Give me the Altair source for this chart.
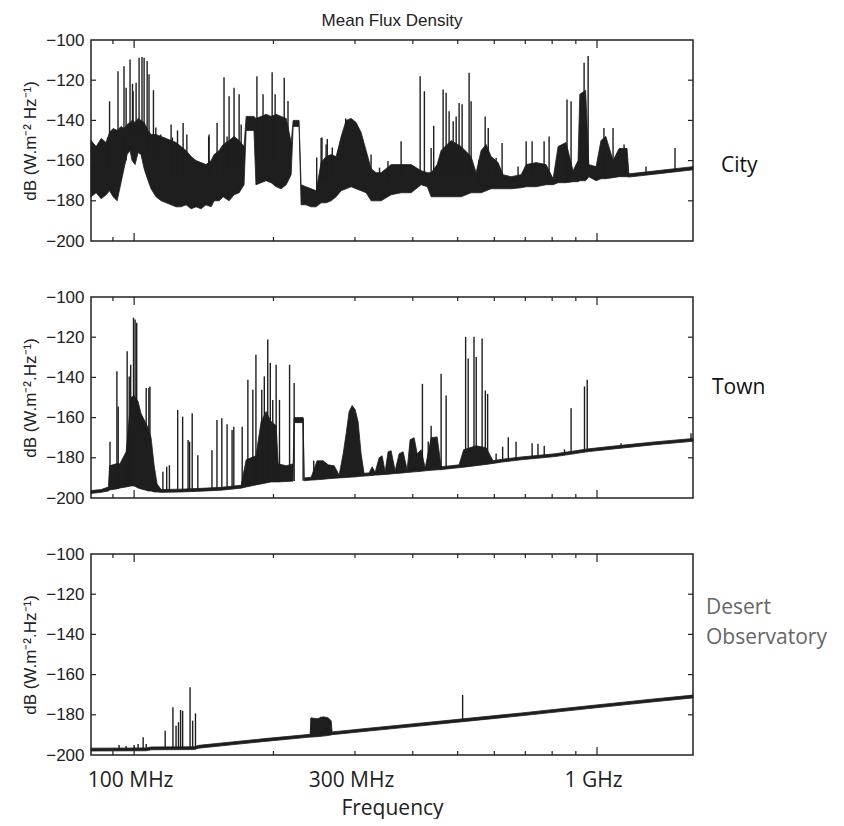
import altair as alt
import pandas as pd

# ---------------- data ----------------
# City: dense band (upper / lower envelope) + spikes
city_band_freq = [80.7, 82.8, 84.9, 87.0, 88.5, 90.1, 91.9, 93.7, 95.1, 96.6, 98.0, 99.0, 100.5, 102.0, 103.5,
                  105.1, 107.2, 108.8, 111.5, 114.4, 117.3, 120.2, 123.2, 126.3, 129.5, 132.8, 136.1, 139.5, 143.0,
                  146.7, 148.9, 152.7, 155.7, 160.4, 164.4, 168.6, 172.8, 174.6, 181.5, 183.3, 188.1, 192.8, 197.7,
                  202.7, 207.8, 213.1, 218.4, 220.6, 227.2, 229.5, 235.0, 241.2, 247.3, 253.5, 259.9, 266.5, 273.2,
                  280.1, 287.1, 294.3, 301.7, 309.3, 317.1, 325.1, 333.3, 341.7, 359.1, 377.4, 396.7, 416.9, 430.0,
                  438.2, 451.5, 460.5, 484.0, 508.7, 534.6, 548.0, 561.9, 576.1, 590.5, 611.4, 626.7, 652.3, 685.5,
                  703.0, 738.8, 776.2, 803.8, 824.0, 857.1, 887.8, 910.0, 918.0, 945.0, 960.0, 995.4, 1020.0, 1045.0,
                  1083.0, 1116.0, 1161.0, 1172.0, 1375.0, 1612.0]
city_band_top = [-150, -153, -149, -151, -146, -144, -145, -143, -144, -142, -141, -140, -141, -139, -140,
                 -141, -145, -147, -147, -148, -149, -150, -151, -153, -155, -158, -160, -161, -162,
                 -160, -157, -155, -152, -150, -148, -150, -153, -138, -138, -139, -138, -137, -138,
                 -137, -138, -139, -151, -140, -140, -172, -173, -174, -175, -161, -158, -157, -158,
                 -148, -140, -139, -141, -146, -155, -164, -166, -166, -162, -162, -162, -165, -166,
                 -166, -162, -155, -150, -153, -158, -166, -155, -152, -158, -161, -167, -168, -167,
                 -162, -161, -162, -169, -153, -151, -165, -160, -127, -125, -162, -163, -150, -148,
                 -160, -154, -154, -166.6, -164.8, -163.0]
city_band_bottom = [-178, -176, -179, -177, -175, -178, -180, -171, -164, -157, -155, -160, -162, -156, -157,
                    -164, -170, -174, -178, -180, -181, -182, -183, -183, -182, -184, -183, -184, -182,
                    -183, -180, -180, -178, -180, -177, -176, -172, -145, -145, -172, -171, -170, -171,
                    -173, -174, -172, -167, -143, -143, -182, -182, -183, -183, -181, -181, -180, -178,
                    -175, -174, -173, -174, -175, -176, -180, -180, -180, -177, -176, -176, -172, -173,
                    -178, -178, -178, -178, -178, -176, -176, -176, -175, -174, -174, -174, -174, -173.5,
                    -173, -173, -172, -172, -171, -171, -170.5, -170.5, -170, -170, -168, -170, -169, -169,
                    -168.5, -168, -168, -168.2, -166.4, -164.6]
city_spike_freq = [84.9, 87.6, 88.5, 91.4, 92.3, 95.1, 96.1, 98.0, 99.2, 99.5, 101.0, 102.5, 104.0, 105.1, 106.7,
                   107.7, 110.1, 111.4, 114.2, 120.2, 121.0, 124.1, 127.6, 130.0, 144.9, 145.2, 151.1, 156.4,
                   158.8, 160.4, 164.4, 168.6, 170.3, 184.2, 189.9, 198.7, 201.7, 211.0, 215.0, 248.0, 253.5,
                   254.6, 259.9, 261.4, 268.0, 278.0, 286.4, 325.0, 339.0, 353.5, 377.4, 414.9, 423.7, 438.2,
                   443.8, 465.1, 472.1, 479.2, 489.0, 496.3, 503.6, 511.2, 529.3, 534.6, 556.3, 573.3, 582.1,
                   605.4, 623.7, 675.3, 703.0, 724.1, 768.6, 788.0, 861.4, 879.0, 937.8, 956.8, 1015.0, 1035.0,
                   1083.0, 1144.0, 1276.0, 1474.0]
city_spike_top = [-153.7, -148.5, -130.5, -144.6, -115.5, -113.0, -123.8, -109.7, -121.8, -125.5, -121.3, -108.8,
                  -108.5, -108.8, -110.5, -117.0, -125.0, -143.5, -147.0, -142.0, -148.5, -145.0, -141.3, -147.0,
                  -148.0, -147.0, -141.3, -118.5, -148.0, -128.0, -123.8, -127.0, -142.0, -118.0, -127.0, -116.0,
                  -127.0, -118.8, -130.3, -158.5, -148.8, -148.5, -152.0, -149.3, -153.5, -152.7, -139.0, -157.0,
                  -163.5, -160.2, -150.4, -118.0, -125.5, -153.7, -142.7, -124.6, -126.3, -135.4, -140.4, -138.0,
                  -131.3, -132.0, -116.3, -130.5, -159.6, -138.0, -143.8, -158.7, -151.2, -162.9, -150.4, -150.4,
                  -150.4, -148.0, -129.6, -130.5, -111.3, -108.0, -158.7, -143.8, -143.8, -152.0, -162.9, -153.7]
city_spike_base = [-165, -165, -165, -165, -165, -160, -160, -150, -150, -150, -150, -150, -150, -150, -155,
                   -155, -160, -165, -165, -170, -170, -170, -170, -170, -170, -170, -170, -170,
                   -170, -165, -165, -165, -165, -160, -160, -160, -160, -160, -160, -175, -170,
                   -170, -170, -170, -170, -165, -165, -172, -175, -172, -170, -170, -170, -172,
                   -172, -170, -170, -170, -170, -170, -170, -170, -170, -170, -172, -170, -170,
                   -170, -170, -172, -170, -170, -170, -170, -168, -168, -165, -165, -168, -168,
                   -167, -167, -166, -165]

# Town
town_band_freq = [80.7, 84.9, 88.0, 88.5, 91.4, 93.2, 96.1, 98.5, 100.0, 102.0, 103.5, 105.6, 107.2, 108.8, 110.5,
                  112.1, 114.4, 126.3, 139.5, 154.2, 170.3, 174.6, 183.3, 188.1, 192.8, 197.7, 202.7, 204.8,
                  213.1, 220.6, 221.7, 231.8, 233.0, 241.2, 248.5, 256.0, 262.6, 270.6, 277.3, 282.9, 287.1,
                  291.4, 295.8, 300.2, 304.7, 309.3, 313.9, 321.9, 326.7, 331.7, 338.3, 343.4, 348.5, 353.7,
                  359.1, 366.3, 373.7, 381.2, 388.9, 394.7, 402.7, 408.8, 416.9, 425.4, 438.2, 451.5, 460.5,
                  467.2, 503.6, 515.0, 548.0, 576.0, 596.0, 625.0, 685.5, 811.9, 960.0, 1127.0, 1328.0, 1612.0]
town_band_top = [-196.3, -195.8, -194.5, -184.0, -183.0, -183.0, -177.0, -150.0, -149.0, -152.0, -158.0, -162.0,
                 -165.0, -170.0, -184.0, -193.0, -195.8, -195.6, -195.2, -194.7, -193.7, -181.0, -179.0, -162.0,
                 -157.0, -162.0, -164.0, -183.0, -184.0, -183.0, -160.0, -160.0, -190.0, -189.7, -181.5, -181.5,
                 -183.5, -184.0, -188.6, -178.0, -168.0, -157.0, -154.0, -156.0, -162.0, -178.0, -187.7, -187.5,
                 -184.5, -187.2, -180.0, -179.0, -186.9, -177.0, -176.5, -186.4, -178.0, -177.0, -185.9, -171.0,
                 -170.0, -178.0, -176.0, -185.1, -170.0, -169.6, -184.5, -184.3, -183.5, -176.0, -174.0, -175.0,
                 -181.4, -180.7, -179.6, -178.0, -175.5, -173.8, -172.1, -170.4]
town_band_bottom = [-197.7, -197.2, -196.5, -196.0, -195.5, -195.0, -194.5, -194.0, -194.0, -195.0, -195.5, -196.0,
                    -196.5, -196.5, -197.0, -197.0, -197.2, -197.0, -196.6, -196.1, -195.1, -194.5, -193.5, -193.0,
                    -192.5, -192.0, -192.0, -192.0, -191.8, -191.6, -162.5, -162.5, -191.4, -191.1, -190.9, -190.7,
                    -190.4, -190.2, -190.0, -189.9, -189.8, -189.7, -189.6, -189.5, -189.3, -189.2, -189.1, -188.9,
                    -188.8, -188.6, -188.5, -188.4, -188.3, -188.2, -188.0, -187.8, -187.7, -187.5, -187.3, -187.2,
                    -187.0, -186.9, -186.7, -186.5, -186.2, -186.0, -185.9, -185.7, -184.9, -184.7, -183.9, -183.3,
                    -182.8, -182.1, -181.0, -179.4, -176.9, -175.2, -173.5, -171.8]
town_spike_freq = [88.7, 91.8, 92.4, 96.6, 97.6, 98.3, 99.7, 100.5, 101.3, 103.2, 106.2, 107.6, 108.2, 115.4,
                   117.6, 119.2, 124.2, 127.3, 130.8, 131.8, 133.5, 137.3, 147.3, 151.0, 154.7, 158.8, 162.8,
                   164.2, 171.2, 176.1, 180.5, 183.3, 188.7, 191.1, 194.4, 196.9, 199.3, 202.7, 206.1, 216.7,
                   221.7, 231.8, 244.4, 419.6, 431.9, 438.2, 460.5, 472.1, 520.2, 526.9, 542.3, 548.4, 564.7,
                   573.8, 580.4, 605.4, 625.4, 643.2, 668.6, 724.1, 745.5, 769.1, 850.7, 879.0, 939.6, 952.5,
                   1127.0, 1596.0]
town_spike_top = [-172.0, -137.0, -154.5, -127.0, -139.5, -133.7, -110.3, -111.2, -112.8, -158.0, -145.3, -145.3,
                  -144.5, -187.0, -184.5, -183.7, -156.2, -159.5, -171.2, -172.0, -157.8, -178.7, -176.2, -161.2,
                  -160.3, -163.3, -166.2, -164.5, -164.5, -141.2, -146.2, -128.7, -146.2, -139.5, -121.2, -132.8,
                  -151.2, -133.7, -151.2, -133.7, -142.8, -160.3, -181.5, -143.2, -171.9, -164.0, -138.2, -149.0,
                  -119.8, -130.6, -119.8, -129.8, -120.6, -146.5, -148.2, -177.8, -174.5, -169.8, -172.0, -172.8,
                  -173.0, -174.0, -175.8, -155.3, -144.5, -141.2, -172.8, -167.8]
town_spike_base = [-195.5, -195.5, -195.5, -194.0, -194.0, -194.0, -170.0, -170.0, -170.0, -190.0, -196.0, -196.0,
                   -196.0, -197.0, -197.0, -197.0, -196.5, -196.5, -196.5, -196.5, -196.5, -196.5, -196.0, -196.0,
                   -196.0, -195.5, -195.5, -195.5, -195.0, -193.0, -193.0, -193.0, -192.5, -192.5, -192.0, -192.0,
                   -192.0, -192.0, -192.0, -191.7, -191.6, -191.4, -191.1, -186.5, -186.2, -186.1, -185.7, -185.5,
                   -184.5, -184.4, -184.0, -183.9, -183.5, -183.2, -183.0, -182.4, -182.0, -181.6, -181.0, -180.0,
                   -179.7, -179.3, -178.0, -177.5, -176.5, -176.4, -175.0, -171.5]

# Desert observatory
desert_band_freq = [80.7, 106.2, 108.8, 135.0, 137.9, 164.4, 194.4, 240.0, 241.2, 248.5, 256.0, 262.6, 266.5,
                    267.8, 320.3, 416.9, 513.4, 685.5, 960.0, 1328.0, 1612.0]
desert_band_top = [-196.6, -196.5, -196.0, -195.9, -195.2, -193.4, -191.7, -189.7, -181.5, -182.0, -181.0, -181.5,
                   -183.0, -188.5, -186.7, -184.1, -182.0, -179.1, -175.5, -172.1, -170.2]
desert_band_bottom = [-198.0, -197.9, -197.4, -197.3, -196.6, -194.8, -193.1, -191.1, -191.1, -190.9, -190.6,
                      -190.3, -190.0, -189.9, -188.1, -185.5, -183.4, -180.5, -176.9, -173.5, -171.6]
desert_spike_freq = [92.8, 96.1, 100.0, 102.0, 104.6, 106.2, 116.7, 121.3, 123.2, 124.7, 126.0, 127.3, 132.1,
                     133.8, 135.7, 241.2, 252.9, 512.5]
desert_spike_top = [-195.0, -195.5, -195.0, -194.5, -191.2, -194.5, -187.9, -176.3, -185.4, -183.7, -177.6, -178.0,
                    -166.3, -182.9, -179.3, -181.6, -181.0, -170.1]
desert_spike_base = [-197.5, -197.5, -197.5, -197.5, -197.5, -197.5, -197.0, -197.0, -197.0, -197.0, -197.0,
                     -197.0, -196.8, -196.5, -196.5, -190.5, -190.5, -182.7]

# Axes
freq_domain = [80.7, 1612.0]
db_domain = [-200, -100]
db_ticks = [-200, -180, -160, -140, -120, -100]
db_inner_ticks = [-180, -160, -140, -120]
freq_major_ticks = [100, 1000]
freq_minor_ticks = [90, 200, 300, 400, 500, 600, 700, 800, 900]
freq_label_values = [100, 300, 1000]

W, H = 602, 201
INK = "#1e1e1e"


def panel(band_f, band_t, band_b, sp_f, sp_t, sp_b, label, label_color, label_dx, label_dy,
          ytitle, bottom, title=None):
    xscale = alt.Scale(type="log", domain=freq_domain, nice=False)
    yscale = alt.Scale(domain=db_domain, nice=False, zero=False)
    if bottom:
        xaxis = alt.Axis(values=freq_label_values, ticks=False, domain=False, grid=False,
                         labelExpr="datum.value >= 1000 ? '1 GHz' : datum.value + ' MHz'",
                         labelFont="Open Sans", labelFontSize=21, labelColor="#222",
                         labelPadding=14, labelOffset=-4, title="Frequency", titleFont="Open Sans",
                         titleFontSize=21, titleFontWeight="normal", titleColor="#222",
                         titlePadding=7, labelFlush=False)
    else:
        xaxis = None
    yaxis = alt.Axis(values=db_ticks, ticks=False, domain=False, grid=False,
                     labelFont="Liberation Sans", labelFontSize=17, labelColor="#222",
                     labelPadding=7, title=ytitle, titleFont="Liberation Sans",
                     titleFontSize=17, titleFontWeight="normal", titleColor="#222",
                     titlePadding=6)

    band = pd.DataFrame({"freq": band_f, "top": band_t, "bottom": band_b})
    spikes = pd.DataFrame({"freq": sp_f, "top": sp_t, "base": sp_b})

    area = alt.Chart(band).mark_area(color=INK, stroke=INK, strokeWidth=0.8).encode(
        x=alt.X("freq:Q", scale=xscale, axis=xaxis),
        y=alt.Y("top:Q", scale=yscale, axis=yaxis),
        y2="bottom:Q",
    )
    rules = alt.Chart(spikes).mark_rule(color=INK, strokeWidth=1.4).encode(
        x=alt.X("freq:Q", scale=xscale, axis=xaxis),
        y=alt.Y("top:Q", scale=yscale, axis=yaxis),
        y2="base:Q",
    )

    maj = pd.DataFrame({"freq": freq_major_ticks})
    mnr = pd.DataFrame({"freq": freq_minor_ticks})
    yt = pd.DataFrame({"db": db_inner_ticks})
    tick_layers = []
    for df, ln in ((maj, 8), (mnr, 4)):
        tick_layers.append(alt.Chart(df).mark_rule(color="#222", strokeWidth=1.2).encode(
            x=alt.X("freq:Q", scale=xscale, axis=xaxis), y=alt.value(H), y2=alt.value(H - ln)))
        tick_layers.append(alt.Chart(df).mark_rule(color="#222", strokeWidth=1.2).encode(
            x=alt.X("freq:Q", scale=xscale, axis=xaxis), y=alt.value(0), y2=alt.value(ln)))
    tick_layers.append(alt.Chart(yt).mark_rule(color="#222", strokeWidth=1.2).encode(
        y=alt.Y("db:Q", scale=yscale, axis=yaxis), x=alt.value(0), x2=alt.value(5)))
    tick_layers.append(alt.Chart(yt).mark_rule(color="#222", strokeWidth=1.2).encode(
        y=alt.Y("db:Q", scale=yscale, axis=yaxis), x=alt.value(W - 5), x2=alt.value(W)))

    lab = alt.Chart(pd.DataFrame({"label": [label]})).mark_text(
        align="left", baseline="middle", font="Open Sans", fontSize=21, color=label_color,
        lineBreak="\n", lineHeight=30).encode(
        x=alt.value(W + label_dx), y=alt.value(label_dy), text="label:N")

    ch = alt.layer(area, rules, *tick_layers, lab).properties(width=W, height=H)
    if title is not None:
        ch = ch.properties(title=alt.TitleParams(title, font="Liberation Sans", fontSize=17,
                                                 fontWeight="normal", color="#222",
                                                 anchor="middle", offset=1))
    return ch


p1 = panel(city_band_freq, city_band_top, city_band_bottom, city_spike_freq, city_spike_top,
           city_spike_base, "City", "#111", 28, 126, "dB (W.m\u207b\u00b2 Hz\u207b\u00b9)", False,
           title="Mean Flux Density")
p2 = panel(town_band_freq, town_band_top, town_band_bottom, town_spike_freq, town_spike_top,
           town_spike_base, "Town", "#111", 19, 91, "dB (W.m\u207b\u00b2.Hz\u207b\u00b9)", False)
p3 = panel(desert_band_freq, desert_band_top, desert_band_bottom, desert_spike_freq, desert_spike_top,
           desert_spike_base, "Desert\nObservatory", "#666", 13, 54,
           "dB (W.m\u207b\u00b2.Hz\u207b\u00b9)", True)

chart = alt.vconcat(p1, p2, p3, spacing=37).properties(
    padding={"left": 12, "top": 3, "right": 0, "bottom": 0},
    background="white",
).configure_view(stroke="#222", strokeWidth=1.5)

chart.save("out.html", embed_options={"renderer": "svg", "actions": False})
